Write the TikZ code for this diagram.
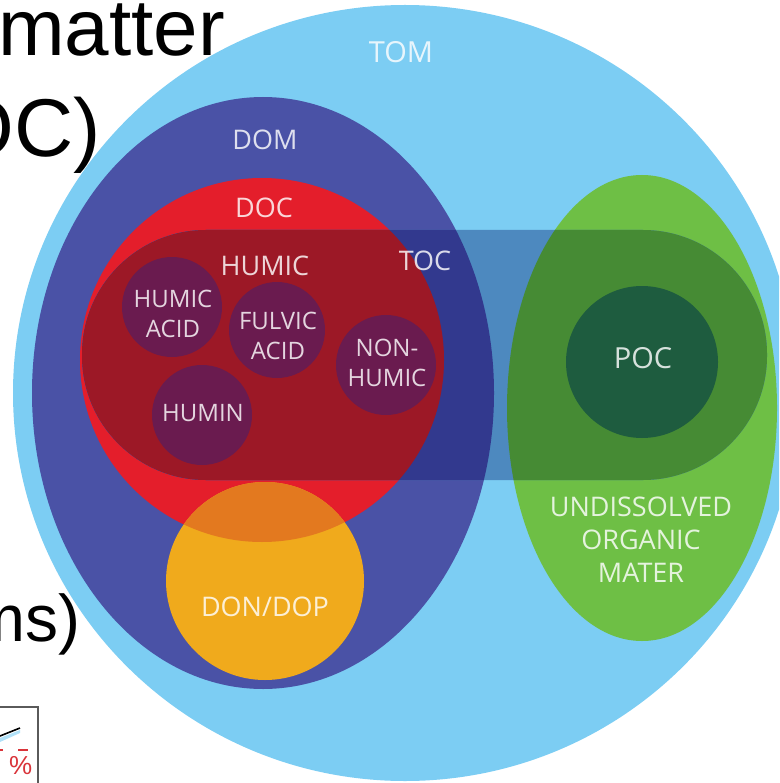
\documentclass[tikz,border=0pt]{standalone}
\usepackage{fontspec}
\setmainfont{Open Sans}
\newfontfamily\slidefont{Liberation Sans}
\definecolor{tomblue}{HTML}{7CCDF3}
\definecolor{domblue}{HTML}{4A52A6}
\definecolor{docred}{HTML}{E41E2B}
\definecolor{uomgreen}{HTML}{6EBF45}
\definecolor{pocgreen}{HTML}{1E5C3F}
\definecolor{donorange}{HTML}{F0AA1C}
\definecolor{donover}{HTML}{E3791F}
\definecolor{toclight}{HTML}{4D89BF}
\definecolor{tocdom}{HTML}{32398E}
\definecolor{tocred}{HTML}{9C1826}
\definecolor{tocgreen}{HTML}{468B34}
\definecolor{humicpurple}{HTML}{6A1B4F}
\definecolor{boxgray}{HTML}{5A5A5A}
\definecolor{pctred}{HTML}{D9343A}
\begin{document}
\begin{tikzpicture}[x=1pt,y=-1pt,
  lbl/.style={text=white, text opacity=0.82, align=center, inner sep=0pt,
    font=\fontsize{27}{31}\selectfont},
  biglbl/.style={lbl, font=\fontsize{29}{33}\selectfont},
  smalllbl/.style={lbl, font=\fontsize{24}{30}\selectfont},
  slidetext/.style={text=black, inner sep=0pt, anchor=base east}]
\useasboundingbox (0,0) rectangle (779,783);
\clip (0,0) rectangle (779,783);

% TOM
\fill[tomblue] (405,393) ellipse [x radius=392, y radius=388];
% DOM
\fill[domblue] (263,393) ellipse [x radius=231, y radius=296];
% undissolved organic matter
\fill[uomgreen] (642,408) ellipse [x radius=135, y radius=233];
% DOC
\fill[docred] (262,360) circle [radius=182];
% DON/DOP
\fill[donorange] (265,581) circle [radius=99];
\begin{scope}
  \clip (265,581) circle [radius=99];
  \fill[donover] (262,360) circle [radius=182];
\end{scope}
% TOC band
\begin{scope}
  \clip[rounded corners=124pt] (82,230) rectangle (767,480);
  \fill[toclight] (0,0) rectangle (779,783);
  \fill[tocdom] (263,393) ellipse [x radius=231, y radius=296];
  \fill[tocred] (262,360) circle [radius=182];
  \fill[tocgreen] (642,408) ellipse [x radius=135, y radius=233];
\end{scope}
% POC
\fill[pocgreen] (642,362) circle [radius=76];
% humic circles
\fill[humicpurple] (172,307) circle [radius=50];
\fill[humicpurple] (277,330) circle [radius=48];
\fill[humicpurple] (202,415) circle [radius=50];
\fill[humicpurple] (386,365) circle [radius=50];

% labels
\node[biglbl] (tom) at (401,52) {TOM};
\node[lbl] (dom) at (265,140) {DOM};
\node[lbl] (doc) at (264,208) {DOC};
\node[lbl] (humic) at (265,266) {HUMIC};
\node[lbl] (toc) at (425,261) {TOC};
\node[smalllbl] (humicacid) at (173,314) {HUMIC\\ACID};
\node[smalllbl] (fulvic) at (278,336) {FULVIC\\ACID};
\node[smalllbl] (nonhumic) at (387,363) {NON-\\HUMIC};
\node[smalllbl] (humin) at (203,413) {HUMIN};
\node[biglbl] (poc) at (643,358) {POC};
\node[lbl, font=\fontsize{27}{33}\selectfont] (uom) at (641,540) {UNDISSOLVED\\ORGANIC\\MATER};
\node[lbl] (don) at (265,607) {DON/DOP};

% slide text fragments
\node[slidetext, anchor=base west, font=\slidefont\fontsize{80}{80}\selectfont] (matter) at (-2,56) {matter};
\node[slidetext, font=\slidefont\fontsize{82}{82}\selectfont] (doctext) at (101,157) {OC)};
\node[slidetext, font=\slidefont\fontsize{66}{66}\selectfont] (mstext) at (81,641) {ms)};

% small chart box fragment
\draw[boxgray, line width=2pt] (-5,707) -- (38,707) -- (38,790);
\fill[tomblue!60] (0,738) -- (20,730) -- (20,733) -- (0,742) -- cycle;
\draw[black, line width=1.6pt] (0,736) -- (20,728);
\node[text=pctred, inner sep=0pt, anchor=base west, font=\slidefont\fontsize{26}{26}\selectfont] (pct) at (9,774) {\%};
\draw[pctred, line width=1.3pt] (18,750) -- (28,750);
\draw[pctred, line width=1.3pt] (0,750) -- (3,750);
\end{tikzpicture}
\end{document}
